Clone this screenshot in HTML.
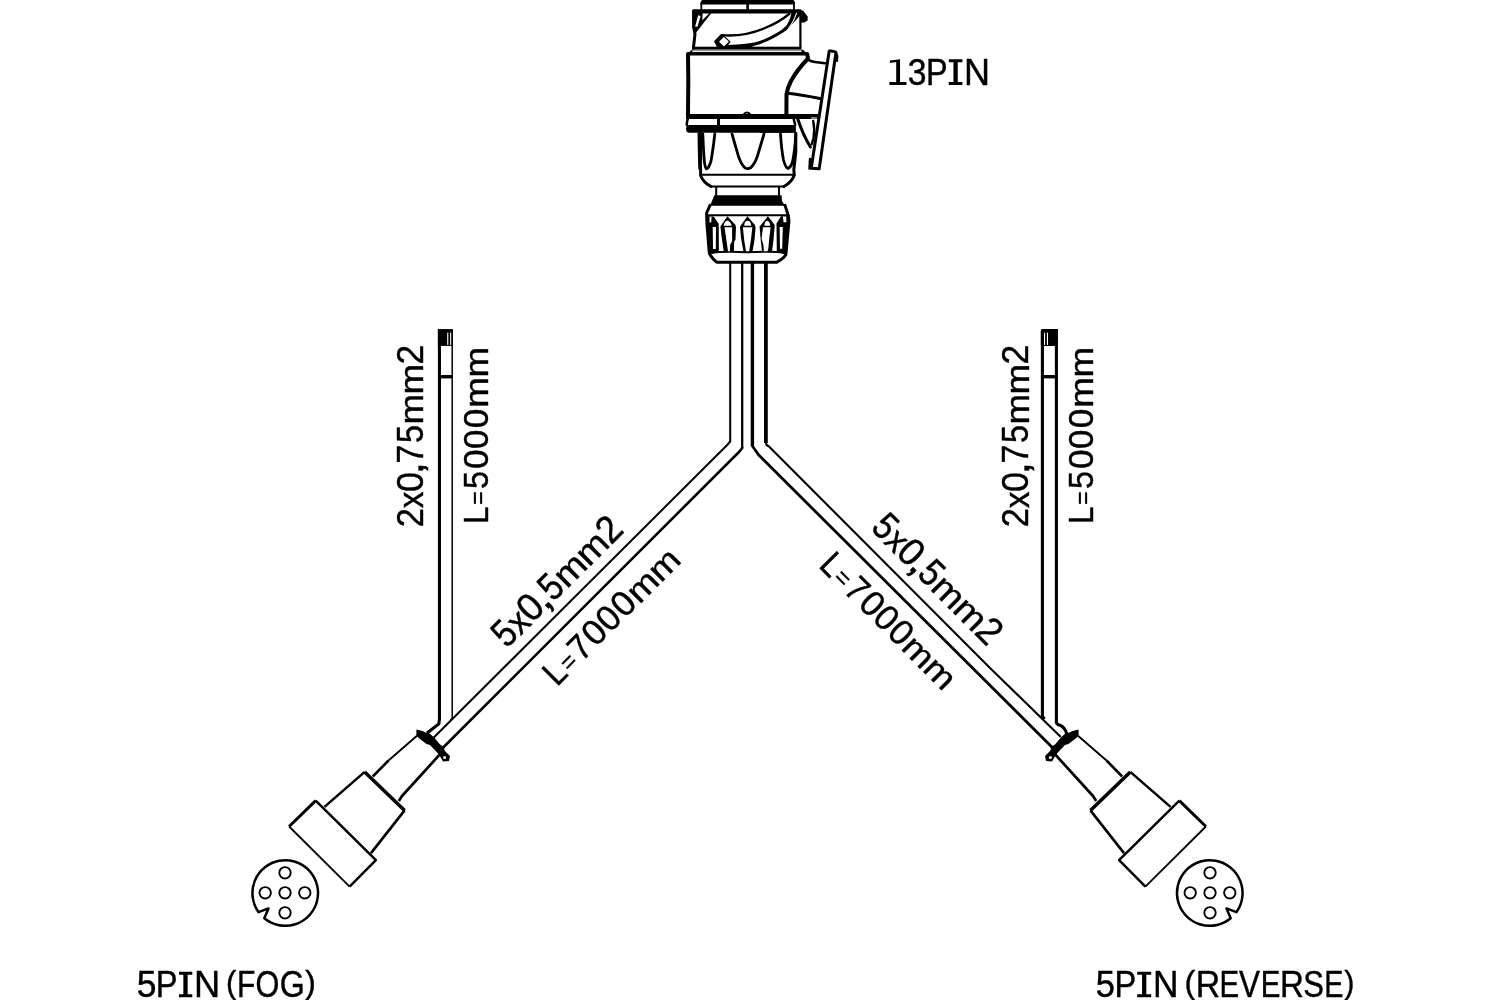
<!DOCTYPE html>
<html><head><meta charset="utf-8">
<style>
html,body{margin:0;padding:0;background:#fff;width:1500px;height:1000px;overflow:hidden}
svg{display:block}
text{font-family:"Liberation Sans",sans-serif;fill:#000;stroke:#000;stroke-width:0.45px}
svg{will-change:transform}
</style></head><body>
<svg width="1500" height="1000" viewBox="0 0 1500 1000">
<rect width="1500" height="1000" fill="#fff"/>

<!-- ===== TEXTS ===== -->
<g id="dr2" transform="translate(819.20,568.30) rotate(45) scale(1.0008)">
<text transform="translate(-2.41,-0.21) scale(0.8383,0.9410)" font-size="37.5">L</text>
<text transform="translate(16.61,-1.63) scale(0.6297,0.6699)" font-size="37.5">=</text>
<text transform="translate(32.30,-0.21) scale(0.8951,0.9410)" font-size="37.5">7</text>
<text transform="translate(52.70,-0.58) scale(0.9378,0.9410)" font-size="37.5">0</text>
<text transform="translate(72.81,-0.58) scale(0.9269,0.9410)" font-size="37.5">0</text>
<text transform="translate(93.50,-0.58) scale(0.9378,0.9410)" font-size="37.5">0</text>
<text transform="translate(113.87,-0.19) scale(0.9798,0.8770)" font-size="37.5">m</text>
<text transform="translate(144.27,-0.19) scale(0.9798,0.8770)" font-size="37.5">m</text>
</g>
<g id="dr1" transform="translate(870.00,530.10) rotate(45) scale(1.0353)">
<text transform="translate(-1.11,-0.62) scale(0.8662,0.9950)" font-size="37.5">5</text>
<text transform="translate(17.05,-0.20) scale(0.8882,0.9190)" font-size="37.5">x</text>
<text transform="translate(33.27,-0.62) scale(0.9597,0.9950)" font-size="37.5">0</text>
<text transform="translate(50.74,0.08) scale(1.2129,1.0606)" font-size="37.5">,</text>
<text transform="translate(62.29,-0.62) scale(0.8662,0.9950)" font-size="37.5">5</text>
<text transform="translate(80.77,-0.20) scale(0.9761,0.8960)" font-size="37.5">m</text>
<text transform="translate(110.67,-0.20) scale(0.9761,0.8960)" font-size="37.5">m</text>
<text transform="translate(140.73,-0.22) scale(0.9350,0.9950)" font-size="37.5">2</text>
</g>
<g id="dl2" transform="translate(558.90,685.60) rotate(-45) scale(1.0023)">
<text transform="translate(-2.41,-0.21) scale(0.8383,0.9410)" font-size="37.5">L</text>
<text transform="translate(16.61,-1.63) scale(0.6297,0.6699)" font-size="37.5">=</text>
<text transform="translate(32.30,-0.21) scale(0.8951,0.9410)" font-size="37.5">7</text>
<text transform="translate(52.70,-0.58) scale(0.9378,0.9410)" font-size="37.5">0</text>
<text transform="translate(72.81,-0.58) scale(0.9269,0.9410)" font-size="37.5">0</text>
<text transform="translate(93.50,-0.58) scale(0.9378,0.9410)" font-size="37.5">0</text>
<text transform="translate(113.87,-0.19) scale(0.9798,0.8770)" font-size="37.5">m</text>
<text transform="translate(144.27,-0.19) scale(0.9798,0.8770)" font-size="37.5">m</text>
</g>
<g id="dl1" transform="translate(508.10,648.60) rotate(-45) scale(1.0354)">
<text transform="translate(-1.11,-0.62) scale(0.8662,0.9950)" font-size="37.5">5</text>
<text transform="translate(17.05,-0.20) scale(0.8882,0.9190)" font-size="37.5">x</text>
<text transform="translate(33.27,-0.62) scale(0.9597,0.9950)" font-size="37.5">0</text>
<text transform="translate(50.74,0.08) scale(1.2129,1.0606)" font-size="37.5">,</text>
<text transform="translate(62.29,-0.62) scale(0.8662,0.9950)" font-size="37.5">5</text>
<text transform="translate(80.77,-0.20) scale(0.9761,0.8960)" font-size="37.5">m</text>
<text transform="translate(110.67,-0.20) scale(0.9761,0.8960)" font-size="37.5">m</text>
<text transform="translate(140.73,-0.22) scale(0.9350,0.9950)" font-size="37.5">2</text>
</g>
<g id="tl1">
<text transform="translate(423.08,527.14) rotate(-90) scale(0.9179,0.9950)" font-size="37.5">2</text>
<text transform="translate(423.10,508.25) rotate(-90) scale(0.8882,0.9190)" font-size="37.5">x</text>
<text transform="translate(423.08,492.03) rotate(-90) scale(0.9597,0.9950)" font-size="37.5">0</text>
<text transform="translate(423.38,474.56) rotate(-90) scale(1.2129,1.0606)" font-size="37.5">,</text>
<text transform="translate(423.08,463.40) rotate(-90) scale(0.8951,0.9950)" font-size="37.5">7</text>
<text transform="translate(423.08,442.91) rotate(-90) scale(0.8662,0.9950)" font-size="37.5">5</text>
<text transform="translate(423.10,424.43) rotate(-90) scale(0.9761,0.8960)" font-size="37.5">m</text>
<text transform="translate(423.10,394.53) rotate(-90) scale(0.9798,0.8960)" font-size="37.5">m</text>
<text transform="translate(423.08,364.39) rotate(-90) scale(0.9464,0.9950)" font-size="37.5">2</text>
</g>
<g id="tl2">
<text transform="translate(487.69,524.11) rotate(-90) scale(0.8383,0.9410)" font-size="37.5">L</text>
<text transform="translate(486.27,505.09) rotate(-90) scale(0.6297,0.6699)" font-size="37.5">=</text>
<text transform="translate(487.69,489.00) rotate(-90) scale(0.8607,0.9410)" font-size="37.5">5</text>
<text transform="translate(487.69,469.00) rotate(-90) scale(0.9378,0.9410)" font-size="37.5">0</text>
<text transform="translate(487.69,448.89) rotate(-90) scale(0.9269,0.9410)" font-size="37.5">0</text>
<text transform="translate(487.69,428.20) rotate(-90) scale(0.9378,0.9410)" font-size="37.5">0</text>
<text transform="translate(487.71,407.83) rotate(-90) scale(0.9798,0.8770)" font-size="37.5">m</text>
<text transform="translate(487.71,377.43) rotate(-90) scale(0.9798,0.8770)" font-size="37.5">m</text>
</g>
<g id="tr1">
<text transform="translate(1028.48,527.14) rotate(-90) scale(0.9179,0.9950)" font-size="37.5">2</text>
<text transform="translate(1028.50,508.25) rotate(-90) scale(0.8882,0.9190)" font-size="37.5">x</text>
<text transform="translate(1028.48,492.03) rotate(-90) scale(0.9597,0.9950)" font-size="37.5">0</text>
<text transform="translate(1028.78,474.56) rotate(-90) scale(1.2129,1.0606)" font-size="37.5">,</text>
<text transform="translate(1028.48,463.40) rotate(-90) scale(0.8951,0.9950)" font-size="37.5">7</text>
<text transform="translate(1028.48,442.91) rotate(-90) scale(0.8662,0.9950)" font-size="37.5">5</text>
<text transform="translate(1028.50,424.43) rotate(-90) scale(0.9761,0.8960)" font-size="37.5">m</text>
<text transform="translate(1028.50,394.53) rotate(-90) scale(0.9798,0.8960)" font-size="37.5">m</text>
<text transform="translate(1028.48,364.39) rotate(-90) scale(0.9464,0.9950)" font-size="37.5">2</text>
</g>
<g id="tr2">
<text transform="translate(1092.69,524.11) rotate(-90) scale(0.8383,0.9410)" font-size="37.5">L</text>
<text transform="translate(1091.27,505.09) rotate(-90) scale(0.6297,0.6699)" font-size="37.5">=</text>
<text transform="translate(1092.69,489.00) rotate(-90) scale(0.8607,0.9410)" font-size="37.5">5</text>
<text transform="translate(1092.69,469.00) rotate(-90) scale(0.9378,0.9410)" font-size="37.5">0</text>
<text transform="translate(1092.69,448.89) rotate(-90) scale(0.9269,0.9410)" font-size="37.5">0</text>
<text transform="translate(1092.69,428.20) rotate(-90) scale(0.9378,0.9410)" font-size="37.5">0</text>
<text transform="translate(1092.71,407.83) rotate(-90) scale(0.9798,0.8770)" font-size="37.5">m</text>
<text transform="translate(1092.71,377.43) rotate(-90) scale(0.9798,0.8770)" font-size="37.5">m</text>
</g>
<g id="t13">
<path d="M889.4,82.1 H906.5 V85 H889.4 Z M896.2,62.1 L889.9,63.1 L889.9,60.4 L900.05,59.3 V82.2 H896.2 Z"/>
<text transform="translate(907.84,84.88) scale(0.8991,0.9832)" font-size="37.5">3</text>
<text transform="translate(926.11,84.88) scale(0.8653,0.9832)" font-size="37.5">P</text>
<path d="M948.80,59.30 H962.40 V62.30 H957.75 V82.10 H962.40 V85.10 H948.80 V82.10 H953.45 V62.30 H948.80 Z"/>
<text transform="translate(964.03,84.88) scale(0.9606,0.9832)" font-size="37.5">N</text>
</g>
<g id="tfog">
<text transform="translate(136.79,997.09) scale(0.9485,0.9756)" font-size="37.5">5</text>
<text transform="translate(155.79,997.09) scale(0.8702,0.9756)" font-size="37.5">P</text>
<text transform="translate(193.92,997.09) scale(0.9653,0.9756)" font-size="37.5">N</text>
<text transform="translate(225.97,992.60) scale(0.8317,0.8352)" font-size="37.5">(</text>
<text transform="translate(236.99,997.09) scale(0.8004,0.9756)" font-size="37.5">F</text>
<text transform="translate(255.41,997.09) scale(0.8180,0.9756)" font-size="37.5">O</text>
<text transform="translate(279.86,997.09) scale(0.8581,0.9756)" font-size="37.5">G</text>
<text transform="translate(304.93,992.60) scale(0.8704,0.8352)" font-size="37.5">)</text>
<path d="M179.00,971.70 H192.30 V974.80 H187.65 V994.20 H192.30 V997.30 H179.00 V994.20 H183.35 V974.80 H179.00 Z"/>
</g>
<g id="trev">
<text transform="translate(1095.82,997.09) scale(0.9211,0.9756)" font-size="37.5">5</text>
<text transform="translate(1114.59,997.09) scale(0.8702,0.9756)" font-size="37.5">P</text>
<text transform="translate(1153.09,997.09) scale(0.9419,0.9756)" font-size="37.5">N</text>
<text transform="translate(1184.49,992.60) scale(0.8704,0.8352)" font-size="37.5">(</text>
<text transform="translate(1195.70,997.09) scale(0.9011,0.9756)" font-size="37.5">R</text>
<text transform="translate(1219.44,997.09) scale(0.7859,0.9756)" font-size="37.5">E</text>
<text transform="translate(1239.02,997.09) scale(0.8387,0.9756)" font-size="37.5">V</text>
<text transform="translate(1260.74,997.09) scale(0.7859,0.9756)" font-size="37.5">E</text>
<text transform="translate(1280.06,997.09) scale(0.8834,0.9756)" font-size="37.5">R</text>
<text transform="translate(1303.28,997.09) scale(0.8258,0.9756)" font-size="37.5">S</text>
<text transform="translate(1324.19,997.09) scale(0.7666,0.9756)" font-size="37.5">E</text>
<text transform="translate(1344.14,992.60) scale(0.8124,0.8352)" font-size="37.5">)</text>
<path d="M1137.20,971.70 H1151.20 V974.80 H1146.35 V994.20 H1151.20 V997.30 H1137.20 V994.20 H1142.05 V974.80 H1137.20 Z"/>
</g>



<!-- ===== MAIN CABLES ===== -->
<g fill="none" stroke="#000" stroke-linejoin="round">
  <path d="M730.2,262 L730.2,441.5 L727.2,445 L433.3,738" stroke-width="2"/>
  <path d="M742.2,262 L742.2,448" stroke-width="2.3"/>
  <path d="M742.2,447 L742.2,448 L739.5,451.5 L443.2,747.5" stroke-width="2.6"/>
  <path d="M752.4,262 L752.4,446" stroke-width="3.4"/>
  <path d="M752.4,445 L752.4,446 L758.7,455 L1052.4,747.6" stroke-width="2.8"/>
  <path d="M765.9,262 L765.9,443" stroke-width="3.8"/>
  <path d="M765.9,442 L766.5,445 L769,446.5 L990,668 L1060.8,737" stroke-width="2.1"/>
</g>

<!-- ===== THIN CABLES ===== -->
<g fill="none" stroke="#000" stroke-linejoin="miter">
  <path d="M439.45,329.5 L439.45,719.5 L438.8,724 L427,733" stroke-width="3.1"/>
  <path d="M452.2,329.5 L452.2,718.5 L450.4,720.5" stroke-width="1.5"/>
  <rect x="437.9" y="329.1" width="15" height="16.8" fill="#000" stroke="none"/>
  <rect x="447.2" y="332.6" width="1.1" height="12.3" fill="#fff" stroke="none"/>
  <rect x="450.1" y="332.6" width="1.1" height="12.3" fill="#fff" stroke="none"/>
  <rect x="438" y="375" width="15" height="3.4" fill="#000" stroke="none"/>

  <path d="M1042.4,329.5 L1042.4,716.5 L1044.5,719" stroke-width="3.1"/>
  <path d="M1056.4,329.5 L1056.4,722.4 Q1056.8,724.5 1060,725.3 Q1064.5,727 1066.5,733 L1067.5,737" stroke-width="3.1"/>
  <path d="M1040.85,331 L1042.3,329.1 L1058,329.1 L1058,345.9 L1040.85,345.9 Z" fill="#000" stroke="none"/>
  <rect x="1044" y="332.6" width="1.1" height="12.3" fill="#fff" stroke="none"/>
  <rect x="1046.9" y="332.6" width="1.1" height="12.3" fill="#fff" stroke="none"/>
  <rect x="1041" y="375" width="17" height="3.4" fill="#000" stroke="none"/>
</g>

<!-- ===== LEFT LOWER ASSEMBLY ===== -->
<g id="assy">
 <g fill="none" stroke="#000" stroke-linejoin="round">
  <!-- front rect -->
  <path d="M289.1,826.5 L315.7,800.6" stroke-width="3"/>
  <path d="M315.7,800.6 L375.9,860.1 L349.6,886.7" stroke-width="2.5"/>
  <path d="M349.6,886.7 L289.1,826.5" stroke-width="1.8"/>
  <!-- trapezoid -->
  <path d="M324.5,806.9 L364.7,771.9" stroke-width="2.5"/>
  <path d="M364.7,771.9 L404.6,810.4" stroke-width="3.5"/>
  <path d="M404.6,810.4 L371,853.1" stroke-width="2.6"/>
  <!-- cone -->
  <path d="M372.8,776.5 L388.5,760.5" stroke-width="2.6"/>
  <path d="M388.5,760.5 L417,735.8" stroke-width="1.9"/>
  <path d="M398.8,801 L402,796 L439.6,754.7" stroke-width="2.7"/>
  <!-- dial -->
  <path d="M258.6,912.2 A32.8,32.8 0 1 1 264.3,918.3 L268.5,908.4 Z" stroke-width="2.5"/>
  <circle cx="285" cy="872.8" r="5.7" stroke-width="1.9"/>
  <circle cx="265.2" cy="892.8" r="5.7" stroke-width="1.9"/>
  <circle cx="285" cy="892.8" r="5.7" stroke-width="1.9"/>
  <circle cx="304.8" cy="892.8" r="5.7" stroke-width="1.9"/>
  <circle cx="285" cy="912.8" r="5.7" stroke-width="1.9"/>
 </g>
 <!-- clamp -->
 <path d="M416.5,729.5 L422.5,731 L425.5,732.5 L430,733.8 L434.5,738 L440,744.5 L444,747 L444.5,750.5 L450,756 L449,761 L443,761.5 L439,754.5 L430,745 L426.5,744 L418,737.5 L416.3,735 Z" fill="#000"/>
 <circle cx="444.6" cy="757.5" r="1.5" fill="#fff"/>
</g>
<g transform="translate(1495,0) scale(-1,1)">
 <g fill="none" stroke="#000" stroke-linejoin="round">
  <!-- front rect -->
  <path d="M289.1,826.5 L315.7,800.6" stroke-width="3"/>
  <path d="M315.7,800.6 L375.9,860.1 L349.6,886.7" stroke-width="2.5"/>
  <path d="M349.6,886.7 L289.1,826.5" stroke-width="1.8"/>
  <!-- trapezoid -->
  <path d="M324.5,806.9 L364.7,771.9" stroke-width="2.5"/>
  <path d="M364.7,771.9 L404.6,810.4" stroke-width="3.5"/>
  <path d="M404.6,810.4 L371,853.1" stroke-width="2.6"/>
  <!-- cone -->
  <path d="M372.8,776.5 L388.5,760.5" stroke-width="2.6"/>
  <path d="M388.5,760.5 L417,735.8" stroke-width="1.9"/>
  <path d="M398.8,801 L402,796 L439.6,754.7" stroke-width="2.7"/>
  <!-- dial -->
  <path d="M258.6,912.2 A32.8,32.8 0 1 1 264.3,918.3 L268.5,908.4 Z" stroke-width="2.5"/>
  <circle cx="285" cy="872.8" r="5.7" stroke-width="1.9"/>
  <circle cx="265.2" cy="892.8" r="5.7" stroke-width="1.9"/>
  <circle cx="285" cy="892.8" r="5.7" stroke-width="1.9"/>
  <circle cx="304.8" cy="892.8" r="5.7" stroke-width="1.9"/>
  <circle cx="285" cy="912.8" r="5.7" stroke-width="1.9"/>
 </g>
 <!-- clamp -->
 <path d="M416.5,729.5 L422.5,731 L425.5,732.5 L430,733.8 L434.5,738 L440,744.5 L444,747 L444.5,750.5 L450,756 L449,761 L443,761.5 L439,754.5 L430,745 L426.5,744 L418,737.5 L416.3,735 Z" fill="#000"/>
 <circle cx="444.6" cy="757.5" r="1.5" fill="#fff"/>
</g>

<!-- ===== TOP CONNECTOR ===== -->
<g id="plug" fill="none" stroke="#000" stroke-linejoin="round" stroke-linecap="round">
  <!-- top cap -->
  <path d="M701.3,10 L701.3,3 Q702,0 706,0 L789,0 Q794,0 794,3 L794,10" stroke-width="1.8"/>
  <path d="M700.5,4.4 Q700.5,0 704,0 L791,0 Q794.8,0 794.8,4.4 Z" fill="#000" stroke="none"/>
  <line x1="747.6" y1="4" x2="747.6" y2="9.5" stroke-width="2.6" stroke-linecap="butt"/>
  <rect x="692.6" y="9.3" width="108.7" height="4.3" rx="1.2" fill="#000" stroke="none"/>
  <path d="M800,10 L803,10.5 L807.6,16.5 L807.6,20.5 L804.5,22.5 L800.5,22.5 Z" fill="#000" stroke="none"/>
  <!-- upper body -->
  <path d="M693.6,11 L693.8,28 L695,34 L693.4,48" stroke-width="3"/>
  <path d="M692.4,10 L711.8,12.5 L696.2,32.5 L694.5,33.5 L692.4,27 Z" fill="#000" stroke="none"/>
  <path d="M702.6,13.4 L709.1,13.4 L702.3,20.3 Z M698.2,15.2 L700.6,15.9 L697.5,26.7 L695.1,26.4 Z" fill="#fff" stroke="none"/>
  <path d="M800.4,13 L800.4,48" stroke-width="2.2"/>
  <!-- lever -->
  <path d="M722,35.2 C738,36.5 752,33.5 765,28 C775,24 783,19 789.2,14" stroke-width="2.3"/>
  <path d="M728.5,46.5 C745,46 752,45.5 760,42.5 C770,39 778,34 782.7,31 C790,25 796,18 800.5,12.5" stroke-width="3"/>
  <path d="M729,45 L751,44.5 L753,47 L729,47 Z" fill="#000" stroke="none"/>
  <path d="M791.6,12.5 C790.5,18 788.5,23 784.5,28.5 L781,31.5 L786,30.5 C792,25 797,18 800.2,12 Z" fill="#000" stroke="none"/>
  <path d="M796.6,13.2 C795,18.5 792.5,23.5 788.8,28.3" stroke="#fff" stroke-width="1.1"/>
  <path d="M714,41.3 L721,34 L722.8,34.4 L730.7,41.7 L726.2,47.8 L717.3,47.8 Z" fill="#000" stroke="none"/>
  <path d="M719,41.7 L723.7,36.9 L728.9,41.4 L724,46.5 Z" fill="#fff" stroke="none"/>
  <rect x="692" y="46.7" width="109.3" height="2.9" fill="#000" stroke="none"/>
  <line x1="693.5" y1="50.6" x2="802.6" y2="50.6" stroke="#777" stroke-width="0.9"/>
  <path d="M692.5,49 L686.8,54.2 L686.8,55.4 L808.3,55.4 L808.3,54.2 L801.8,49 L801.5,52 L692.5,52 Z" fill="#000" stroke="none"/>
  <!-- main box -->
  <path d="M688,54 L688.3,80 L688,114" stroke-width="4"/>
  <path d="M807.2,54 L808,58.5 Q797,70 791,81 Q787.5,88 786.5,94 L786.4,114" stroke-width="4"/>
  <path d="M686,116.5 L818.5,116.5" stroke-width="4.8" stroke-linecap="butt"/>
  <path d="M744,114 Q747,111 750,114" stroke-width="2"/>
  <!-- bracket -->
  <path d="M808.5,59.8 Q811,61.5 815,62 L825,63.3" stroke-width="2.6"/>
  <path d="M787.5,93.3 Q800,94.5 819.8,98.5" stroke-width="3"/>
  <path d="M811.5,118 L816.5,118" stroke="#fff" stroke-width="1"/>
  <path d="M797.8,119 Q803,135 810.4,147" stroke-width="3"/>
  <path d="M813.2,121 Q815,130 813.5,138 L811.8,144.2" stroke-width="2.4"/>
  <path d="M810,159 L809.5,168.5" stroke-width="2.4"/>
  <!-- plate -->
  <path d="M829.2,51 Q833,50.5 836,52.3 L819.2,168.8 L811.2,168.3 Z" stroke-width="3"/>
  <path d="M836,53 L837.3,56 L837,61" stroke-width="2.2"/>
  <!-- band -->
  <path d="M688,118.5 Q686.8,121 686.8,125" stroke-width="2.5"/>
  <path d="M793.6,118.5 L795.2,125" stroke-width="2.5"/>
  <line x1="718.5" y1="118.9" x2="718.5" y2="125" stroke-width="3" stroke-linecap="butt"/>
  <rect x="686.1" y="125" width="109.6" height="7.7" rx="3.5" fill="#000" stroke="none"/>
  <rect x="760" y="125" width="35.7" height="7.7" fill="#000" stroke="none"/>
  <!-- crown outline -->
  <path d="M699.8,133 L700,160 L700.6,170 L700.6,175.4 Q703,182 711,186.5" stroke-width="3"/>
  <path d="M711,186.5 L784,186.5" stroke-width="2.2"/>
  <path d="M784,186.5 Q792,182 794.3,175 L793.8,170 L795.8,152 L795.8,133" stroke-width="3"/>
  <path d="M697.5,133 L702.8,133 L702,160 L701.8,170 L698.3,169.6 L697.8,150 Z" fill="#000" stroke="none"/>
  <line x1="701.5" y1="174.7" x2="794" y2="174.7" stroke-width="2"/>
  <!-- teeth -->
  <path d="M702.8,134 Q703.5,150 704.2,160 Q705,168 706.5,168.8 Q709,168 711,161 Q713,150 714.8,134" stroke-width="2.8"/>
  <path d="M732,134 L738.6,156.8 Q741.5,165 745,167.8 Q747.6,169.5 750.5,167.8 Q754.5,164.5 757.2,156.8 L764,134" stroke-width="2.8"/>
  <path d="M780.5,134 Q781.5,150 783.5,160 Q785.5,167.5 788,168.5 Q791,167 792.5,162 Q795,150 795.8,134" stroke-width="2.8"/>
  <!-- neck -->
  <path d="M716.2,187 L716.2,196 M779,187 L779,196" stroke-width="2"/>
  <path d="M714.4,195.2 L781.6,195.2 L782,201 L785,205.8 L709.8,205.8 L712,201 Z" fill="#000" stroke="none"/>
  <!-- knurled nut -->
  <path d="M710,205.4 L706.6,213 L707,225 L709.3,253 Q712,259 717,262.3 L776.5,262.3 Q783,259 785.9,254.7 L788.9,221.5 L788.4,215.6 L785,205.4" stroke-width="3"/>
  <line x1="708" y1="215.3" x2="787.5" y2="215.3" stroke-width="2"/>
  <path d="M709,252.5 Q730,251 747,252.3 Q768,251 786,252.3" stroke-width="2"/>
  <!-- flutes -->
  <g stroke="none">
   <path d="M706.6,216 L713.75,216.6 L718.7,223.7 L718.9,252.5 L708.8,254.5 L707.5,235 Z" fill="#000"/>
   <path d="M712.7,227 L716,227 L715.8,249 L713,249 Z M709.6,216.8 L711.6,216.8 L711.2,222.6 L709.5,222.6 Z" fill="#fff"/>
   <path d="M727.4,216.3 L735.5,225 L736,227.5 L735.5,239.5 L734.2,241.5 L733.9,252 L723.8,252 L721.5,236 L720.4,226.5 Z" fill="#000"/>
   <path d="M723.6,225.8 Q724.5,221 727.5,220.5 Q730.5,221.5 731.7,225.8 Z M724.5,227.3 L732.1,227.3 L732.1,241.5 L730.3,244.2 L729.85,251.3 L728,251.3 Z" fill="#fff"/>
   <path d="M747.4,216.3 L754.8,224.8 L755.6,227.5 L754.5,240 L752.4,252 L743.5,252 L741,238 L740,226.5 Z" fill="#000"/>
   <path d="M744.2,225.8 Q744.5,220.8 747.6,220.8 Q750.8,220.8 751.2,225.8 Z M742.9,227.3 L752.35,227.3 L751,239.25 L749.2,251.3 L746,251.3 L744.25,240.6 Z" fill="#fff"/>
   <path d="M767.95,216.3 L774.7,225 L774.5,228 L773.5,240 L772,252 L762.1,252 L760.5,238 L759.6,226.5 Z" fill="#000"/>
   <path d="M764.35,225.8 Q764.8,221 767.3,220.8 Q769.8,221 770.2,225.8 Z M763,227.3 L770.65,227.3 L769.3,237.9 L768.4,248.3 L767.5,251.3 L763.9,251.3 L763.4,245 L761.6,238.8 Z" fill="#fff"/>
   <path d="M781,216.3 L776.5,223.5 L776.8,252.5 L786,254.5 L788.6,224 L788.4,216 Z" fill="#000"/>
   <path d="M779.65,227 L782.8,227 L782.2,248.7 L780,248.7 Z M782.8,216.5 L786.2,216.5 L786.4,222.2 L783.6,222.2 Z" fill="#fff"/>
  </g>
</g>
</svg>
</body></html>
